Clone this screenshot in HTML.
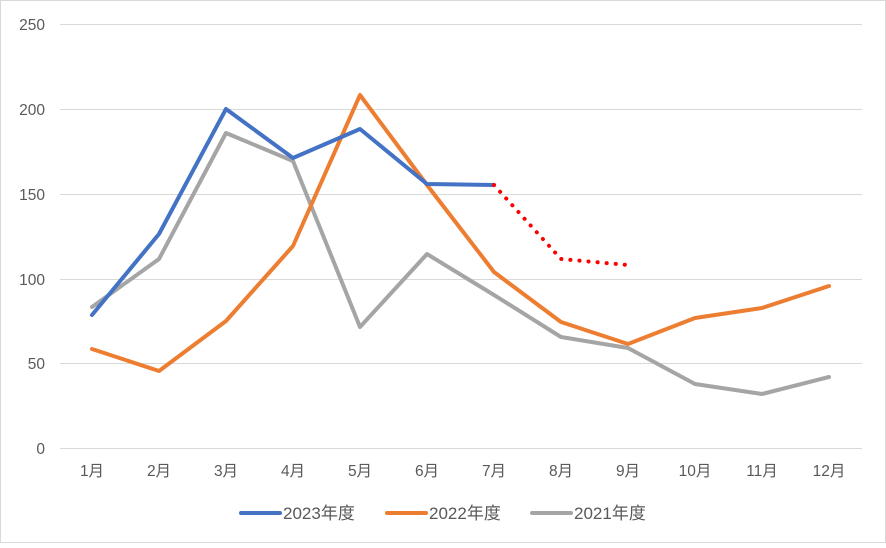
<!DOCTYPE html>
<html><head><meta charset="utf-8"><style>
body{margin:0;background:#fff}
svg text{font-family:"Liberation Sans","Noto Sans CJK SC",sans-serif;fill:#595959;font-size:15.5px}
svg text.lg{font-size:17px}
</style></head><body>
<svg width="886" height="543" xmlns="http://www.w3.org/2000/svg">
<rect x="0.5" y="0.5" width="885" height="542" fill="#fff" stroke="#d9d9d9"/>
<g stroke="#d9d9d9" stroke-width="1">
<line x1="60" y1="24.5" x2="862" y2="24.5"/><line x1="60" y1="109.5" x2="862" y2="109.5"/>
<line x1="60" y1="194.5" x2="862" y2="194.5"/><line x1="60" y1="279.5" x2="862" y2="279.5"/>
<line x1="60" y1="363.5" x2="862" y2="363.5"/><line x1="60" y1="448.5" x2="862" y2="448.5"/>
</g>
<g text-anchor="end">
<text x="45" y="30">250</text><text x="45" y="115">200</text><text x="45" y="200">150</text>
<text x="45" y="285">100</text><text x="45" y="369">50</text><text x="45" y="454">0</text>
</g>
<g text-anchor="middle">
<text x="92" y="476">1月</text><text x="159" y="476">2月</text><text x="226" y="476">3月</text><text x="293" y="476">4月</text>
<text x="360" y="476">5月</text><text x="427" y="476">6月</text><text x="494" y="476">7月</text><text x="561" y="476">8月</text>
<text x="628" y="476">9月</text><text x="695" y="476">10月</text><text x="762" y="476">11月</text><text x="829" y="476">12月</text>
</g>
<g fill="none" stroke-width="4" stroke-linejoin="round" stroke-linecap="round">
<polyline stroke="#a5a5a5" points="92,307 159,259 226,133 293,161 360,327 427,254 494,295 561,337 628,348 695,384 762,394 829,377"/>
<polyline stroke="#ed7d31" points="92,349 159,371 226,321 293,246 360,95 427,185 494,272 561,322 628,344 695,318 762,308 829,286"/>
<polyline stroke="#4472c4" points="92,315 159,234 226,109 293,158 360,129 427,184 494,185"/>
<polyline stroke="#ff0000" stroke-dasharray="0.1 9" points="494,185 561,259 628,265"/>
</g>
<g stroke-width="4" stroke-linecap="round">
<line x1="241" y1="513" x2="280" y2="513" stroke="#4472c4"/>
<line x1="387" y1="513" x2="426" y2="513" stroke="#ed7d31"/>
<line x1="532" y1="513" x2="571" y2="513" stroke="#a5a5a5"/>
</g>
<text class="lg" x="283" y="519">2023年度</text><text class="lg" x="429" y="519">2022年度</text><text class="lg" x="574" y="519">2021年度</text>
</svg>
</body></html>
